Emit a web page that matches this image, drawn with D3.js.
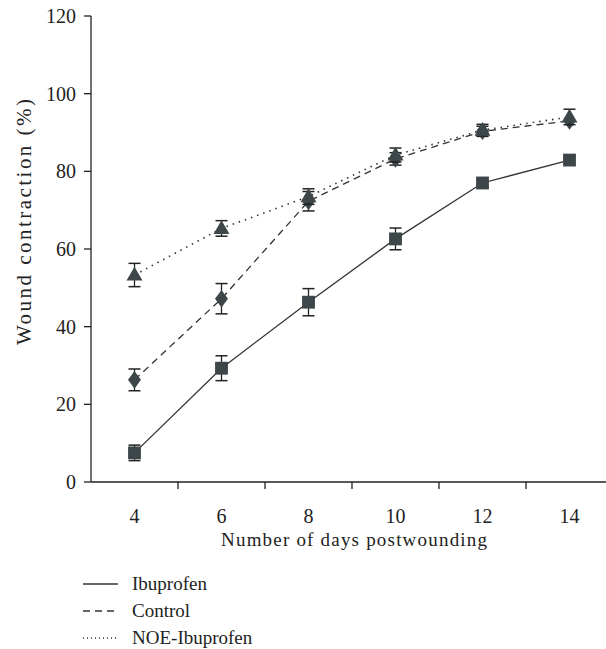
<!DOCTYPE html>
<html><head><meta charset="utf-8">
<script src="https://cdn.jsdelivr.net/npm/d3@7"></script>
<style>body{margin:0;background:#fff}svg{display:block}text{font-family:"Liberation Serif","DejaVu Serif",serif;fill:#222}</style>
</head><body><svg id="c" width="606" height="649"></svg>
<script>
const days = [4, 6, 8, 10, 12, 14];
const yTicks = [0, 20, 40, 60, 80, 100, 120];
const seriesNames = ["Ibuprofen", "Control", "NOE-Ibuprofen"];
const ibuprofen = [7.5, 29.3, 46.3, 62.6, 77, 82.9];
const ibuprofenErr = [2.0, 3.2, 3.5, 2.8, 0.8, 0.8];
const control = [26.3, 47.2, 72.3, 83.2, 90.3, 93.0];
const controlErr = [2.8, 3.9, 2.5, 1.6, 1.3, 1.0];
const noe = [53.3, 65.3, 73.5, 84.2, 90.6, 94.0];
const noeErr = [3.0, 2.0, 2.0, 1.8, 1.5, 2.0];

const svg = d3.select("#c");
const x = d3.scaleLinear().domain([3, 15]).range([91, 613]);
const y = d3.scaleLinear().domain([0, 120]).range([482, 16]);
const col = "#3d4649";
const FS = 19;

// axes
const gx = svg.append("g").attr("transform", "translate(0,482)");
gx.append("line").attr("x1", 91).attr("x2", 606).attr("stroke", "#222").attr("stroke-width", 1.3);
gx.selectAll("line.t").data([5, 7, 9, 11, 13]).enter().append("line")
  .attr("x1", d => x(d)).attr("x2", d => x(d)).attr("y1", 0).attr("y2", 7)
  .attr("stroke", "#222").attr("stroke-width", 1.3);
gx.selectAll("text").data(days).enter().append("text")
  .attr("x", d => x(d)).attr("y", 41).attr("text-anchor", "middle")
  .attr("font-size", 20).text(d => d);
svg.append("text").attr("x", 354).attr("y", 546).attr("text-anchor", "middle")
  .attr("font-size", FS).attr("textLength", 266).attr("lengthAdjust", "spacing").text("Number of days postwounding");

const gy = svg.append("g");
gy.append("line").attr("x1", 91).attr("x2", 91).attr("y1", y(120)).attr("y2", 482)
  .attr("stroke", "#222").attr("stroke-width", 1.3);
gy.selectAll("line.t").data(yTicks).enter().append("line")
  .attr("x1", 84).attr("x2", 91).attr("y1", d => y(d)).attr("y2", d => y(d))
  .attr("stroke", "#222").attr("stroke-width", 1.3);
gy.selectAll("text").data(yTicks).enter().append("text")
  .attr("x", 76).attr("y", d => y(d) + 7).attr("text-anchor", "end")
  .attr("font-size", 20).text(d => d);
svg.append("text").attr("transform", `translate(31,222) rotate(-90)`)
  .attr("text-anchor", "middle").attr("font-size", 21)
  .attr("textLength", 246).attr("lengthAdjust", "spacing").text("Wound contraction (%)");

const series = [
  {vals: ibuprofen, err: ibuprofenErr, dash: null, sym: d3.symbolSquare, size: 165},
  {vals: control, err: controlErr, dash: "7,5", sym: d3.symbolDiamond, size: 110},
  {vals: noe, err: noeErr, dash: "1.5,5", sym: d3.symbolTriangle, size: 110}
];
const line = d3.line().x((d, i) => x(days[i])).y(d => y(d));

series.forEach(s => {
  svg.append("path").attr("d", line(s.vals)).attr("fill", "none")
    .attr("stroke", "#333").attr("stroke-width", s.dash && s.dash.startsWith("1.5") ? 1.6 : 1.3)
    .attr("stroke-dasharray", s.dash);
});
series.forEach(s => {
  const g = svg.append("g");
  s.vals.forEach((v, i) => {
    const cx = x(days[i]);
    if (s.err[i] > 1.0) {
      const y1 = y(v + s.err[i]), y2 = y(v - s.err[i]);
      g.append("line").attr("x1", cx).attr("x2", cx).attr("y1", y1).attr("y2", y2).attr("stroke", "#222").attr("stroke-width", 1.3);
      [y1, y2].forEach(yy => g.append("line").attr("x1", cx - 6).attr("x2", cx + 6).attr("y1", yy).attr("y2", yy).attr("stroke", "#222").attr("stroke-width", 1.5));
    }
    g.append("path").attr("d", d3.symbol().type(s.sym).size(s.size)())
      .attr("transform", `translate(${cx},${y(v) + (s.sym === d3.symbolTriangle ? 1 : 0)})` + (s.sym === d3.symbolDiamond ? " scale(1.15,0.9)" : ""))
      .attr("fill", col);
  });
});

// legend
const lg = svg.append("g");
const lys = [584, 611, 638];
series.forEach((s, i) => {
  lg.append("line").attr("x1", 83).attr("x2", 118).attr("y1", lys[i]).attr("y2", lys[i])
    .attr("stroke", "#333").attr("stroke-width", 1.3)
    .attr("stroke-dasharray", s.dash ? (i === 1 ? "7,5" : "1,3") : null);
  lg.append("text").attr("x", 132).attr("y", lys[i] + 6).attr("font-size", FS).text(seriesNames[i]);
});
</script></body></html>
